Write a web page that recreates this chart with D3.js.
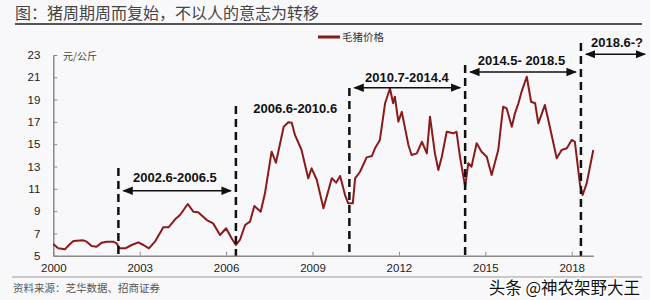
<!DOCTYPE html>
<html>
<head>
<meta charset="utf-8">
<script src="https://cdn.jsdelivr.net/npm/d3@7"></script>
<style>
  body { margin: 0; background: #f8f8fa; }
  svg { display: block; }
</style>
</head>
<body>
<div class="canvas"></div>
<script>
// data: hog price (yuan/kg), dates as decimal years
const dates = [
  2000.00, 2000.17, 2000.40, 2000.58, 2000.70, 2001.04, 2001.16, 2001.33, 2001.50, 2001.68,
  2001.85, 2002.08, 2002.20, 2002.30, 2002.50, 2002.72, 2002.95, 2003.13, 2003.32, 2003.53,
  2003.82, 2004.00, 2004.23, 2004.40, 2004.67, 2004.86, 2005.03, 2005.33, 2005.55, 2005.79,
  2006.00, 2006.19, 2006.34, 2006.48, 2006.66, 2006.83, 2006.98, 2007.20, 2007.35, 2007.58,
  2007.73, 2008.00, 2008.16, 2008.28, 2008.39, 2008.62, 2008.85, 2008.97, 2009.15, 2009.38,
  2009.67, 2009.82, 2009.96, 2010.13, 2010.24, 2010.40, 2010.48, 2010.65, 2010.88, 2011.06,
  2011.17, 2011.34, 2011.52, 2011.69, 2011.80, 2011.86, 2011.98, 2012.10, 2012.33, 2012.44,
  2012.62, 2012.80, 2012.97, 2013.08, 2013.25, 2013.37, 2013.49, 2013.66, 2013.89, 2014.00,
  2014.12, 2014.30, 2014.41, 2014.52, 2014.70, 2014.87, 2015.05, 2015.22, 2015.45, 2015.62,
  2015.74, 2015.92, 2016.03, 2016.15, 2016.26, 2016.44, 2016.59, 2016.73, 2016.84, 2017.07,
  2017.24, 2017.48, 2017.65, 2017.83, 2018.00, 2018.11, 2018.29, 2018.38, 2018.52, 2018.75
];
const prices = [
  6.05, 5.66, 5.57, 6.05, 6.32, 6.38, 6.26, 5.87, 5.80, 6.17,
  6.26, 6.26, 6.10, 5.66, 5.66, 5.96, 6.20, 5.96, 5.66, 6.26,
  7.55, 7.55, 8.26, 8.65, 9.64, 8.95, 8.90, 8.20, 7.90, 6.86,
  7.46, 6.56, 5.96, 6.41, 7.75, 8.05, 9.46, 8.95, 10.6, 14.33,
  13.34, 16.57, 16.96, 16.93, 15.83, 14.48, 11.94, 12.84, 11.79, 9.25,
  11.94, 11.55, 12.15, 10.44, 9.70, 9.70, 11.94, 12.53, 13.82, 13.94,
  14.63, 15.38, 18.67, 20.0, 18.67, 19.26, 17.02, 17.90, 14.93, 14.03,
  14.18, 15.22, 14.18, 17.47, 14.18, 12.69, 13.88, 16.12, 15.98, 16.12,
  13.88, 11.19, 13.30, 12.98, 15.08, 14.33, 13.88, 12.24, 14.48, 18.36,
  18.22, 16.57, 17.77, 18.67, 19.71, 21.05, 18.81, 18.67, 16.87, 18.52,
  16.57, 13.73, 14.48, 14.63, 15.38, 15.22, 11.34, 10.44, 11.49, 14.48
];

const xTicks = [2000, 2003, 2006, 2009, 2012, 2015, 2018];
const yTicks = [5, 7, 9, 11, 13, 15, 17, 19, 21, 23];

// cycle boundaries and labels
const cycleStarts = [2002.26, 2006.34, 2010.28, 2014.30, 2018.32];
const cycleLabels = ['2002.6-2006.5', '2006.6-2010.6', '2010.7-2014.4', '2014.5- 2018.5', '2018.6-?'];
const cycleEnds = [2006.34, null, 2014.30, 2018.32, null];

const dims = { width: 650, height: 300, left: 53.3, right: 593.3, top: 55, bottom: 255.7 };
const lineColor = '#8b1a1a';
const numFont = '"Liberation Sans", Arial, sans-serif';
const cjkFont = '"Noto Sans CJK SC", sans-serif';

const svg = d3.select('.canvas').append('svg')
  .attr('width', dims.width)
  .attr('height', dims.height);

svg.append('rect').attr('width', dims.width).attr('height', dims.height).attr('fill', '#f8f8fa');

// scales
const x = d3.scaleLinear().domain([2000, 2018.75]).range([dims.left, dims.right]);
const y = d3.scaleLinear().domain([5, 23]).range([dims.bottom, dims.top]);

// title
svg.append('text')
  .attr('x', 15).attr('y', 19)
  .attr('font-family', cjkFont).attr('font-size', 16)
  .attr('fill', '#444')
  .text('图：猪周期周而复始，不以人的意志为转移');
svg.append('line')
  .attr('x1', 15).attr('x2', 642).attr('y1', 24).attr('y2', 24)
  .attr('stroke', '#555').attr('stroke-width', 2);

// legend
svg.append('line')
  .attr('x1', 318).attr('x2', 340).attr('y1', 37).attr('y2', 37)
  .attr('stroke', lineColor).attr('stroke-width', 3);
svg.append('text')
  .attr('x', 342).attr('y', 41)
  .attr('font-family', cjkFont).attr('font-size', 10.5)
  .attr('fill', '#333')
  .text('毛猪价格');

// axes
const xAxis = d3.axisBottom(x).tickValues(xTicks).tickSizeInner(-4).tickSizeOuter(0).tickPadding(8).tickFormat(d3.format('d'));
const yAxis = d3.axisLeft(y).tickValues(yTicks).tickSizeInner(-4).tickSizeOuter(0).tickPadding(13);

const xAxisGroup = svg.append('g').attr('transform', `translate(0, ${dims.bottom})`).call(xAxis);
const yAxisGroup = svg.append('g').attr('transform', `translate(${dims.left}, 0)`).call(yAxis);

[xAxisGroup, yAxisGroup].forEach((g) => {
  g.select('path.domain').attr('stroke', '#8a8a8a').attr('stroke-width', 1.5);
  g.selectAll('.tick line').attr('stroke', '#8a8a8a');
  g.selectAll('text')
    .attr('font-family', numFont)
    .attr('font-size', 11.5)
    .attr('fill', '#222');
});

svg.append('text')
  .attr('x', 63).attr('y', 60)
  .attr('font-family', cjkFont).attr('font-size', 10)
  .attr('fill', '#444')
  .text('元/公斤');

// price line
const data = dates.map((d, i) => ({ date: d, value: prices[i] }));
svg.append('path')
  .datum(data)
  .attr('fill', 'none')
  .attr('stroke', lineColor)
  .attr('stroke-width', 2)
  .attr('stroke-linejoin', 'round')
  .attr('d', d3.line().x((d) => x(d.date)).y((d) => y(d.value)));

// annotations: dashed lines, labels, arrows
const lineTops = [168, 106, 88, 65, 43];
const labelYs = [182, 113, 82, 65, 47];
const arrowYs = [190.7, null, 87.7, 72, 54.3];

svg.append('defs').append('marker')
  .attr('id', 'head')
  .attr('viewBox', '0 0 10 10')
  .attr('refX', 9).attr('refY', 5)
  .attr('markerWidth', 7).attr('markerHeight', 7)
  .attr('orient', 'auto-start-reverse')
  .append('path')
  .attr('d', 'M0,1 L10,5 L0,9 Z')
  .attr('fill', '#111');

cycleStarts.forEach((d, i) => {
  svg.append('line')
    .attr('x1', x(d)).attr('x2', x(d))
    .attr('y1', lineTops[i]).attr('y2', dims.bottom)
    .attr('stroke', '#111').attr('stroke-width', 2.5)
    .attr('stroke-dasharray', '8,5');
});

const labelXs = [133, 253.3, 365, 477.7, 591];
cycleLabels.forEach((t, i) => {
  svg.append('text')
    .attr('x', labelXs[i]).attr('y', labelYs[i])
    .attr('font-family', numFont).attr('font-size', 13)
    .attr('font-weight', 'bold').attr('fill', '#111')
    .text(t);
  if (arrowYs[i] !== null) {
    const x1 = x(cycleStarts[i]) + 5;
    const x2 = cycleEnds[i] !== null ? x(cycleEnds[i]) - 5 : 645;
    svg.append('line')
      .attr('x1', x1).attr('x2', x2)
      .attr('y1', arrowYs[i]).attr('y2', arrowYs[i])
      .attr('stroke', '#111').attr('stroke-width', 1.5)
      .attr('marker-start', 'url(#head)')
      .attr('marker-end', 'url(#head)');
  }
});

// source
svg.append('line')
  .attr('x1', 12).attr('x2', 642).attr('y1', 277).attr('y2', 277)
  .attr('stroke', '#999').attr('stroke-width', 1);
svg.append('text')
  .attr('x', 13).attr('y', 292)
  .attr('font-family', cjkFont).attr('font-size', 10.5)
  .attr('fill', '#555')
  .text('资料来源：芝华数据、招商证券');

// watermark
svg.append('text')
  .attr('x', 640).attr('y', 294)
  .attr('text-anchor', 'end')
  .attr('font-family', cjkFont).attr('font-size', 16.5)
  .attr('fill', '#111')
  .attr('stroke', '#fff').attr('stroke-width', 3)
  .attr('paint-order', 'stroke')
  .text('头条 @神农架野大王');
</script>
</body>
</html>
